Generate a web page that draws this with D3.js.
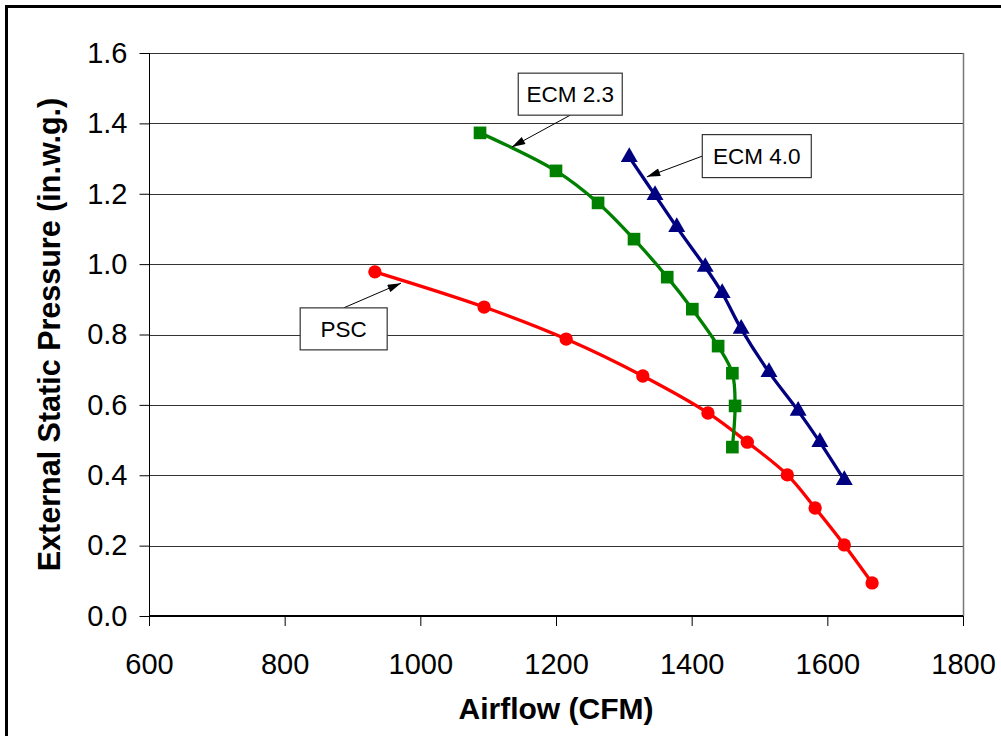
<!DOCTYPE html>
<html>
<head>
<meta charset="utf-8">
<script src="https://cdn.jsdelivr.net/npm/d3@7"></script>
<style>
  body { margin: 0; background: #fff; }
  text { font-family: 'Liberation Sans', Arial, sans-serif; }
</style>
</head>
<body>
<svg id="chart" width="1001" height="736"></svg>
<script>
// + -- data ---------------------------------------------------------------- +
const psc_cfm = [933, 1094, 1215, 1328, 1424, 1482, 1541, 1582, 1625, 1666]
const psc_esp = [0.978, 0.878, 0.787, 0.682, 0.577, 0.494, 0.401, 0.307, 0.202, 0.094]

const ecm23_cfm = [1088, 1200, 1262, 1315, 1364, 1401, 1439, 1460, 1464, 1460]
const ecm23_esp = [1.373, 1.265, 1.174, 1.071, 0.963, 0.872, 0.767, 0.690, 0.597, 0.480]

const ecm40_cfm = [1308, 1346, 1378, 1420, 1445, 1473, 1514, 1557, 1589, 1625]
const ecm40_esp = [1.304, 1.196, 1.105, 0.992, 0.918, 0.816, 0.693, 0.583, 0.494, 0.386]

const x_ticks = [600, 800, 1000, 1200, 1400, 1600, 1800]
const y_ticks = [0, 0.2, 0.4, 0.6, 0.8, 1.0, 1.2, 1.4, 1.6]

// callouts: box centre and arrow tip, in data units
const callouts = [
  {text: 'ECM 2.3', cx: 1221, cy: 1.483, w: 104, h: 42, side: 'bottom', tx: 1135, ty: 1.333},
  {text: 'ECM 4.0', cx: 1496, cy: 1.307, w: 109, h: 43, side: 'left', tx: 1334, ty: 1.248},
  {text: 'PSC', cx: 887, cy: 0.816, w: 87, h: 42, side: 'top', tx: 971.5, ty: 0.946}
]

// + -- layout ------------------------------------------------------------- +
const plot_l = 149, plot_r = 963, plot_t = 53, plot_b = 616
const svg = d3.select('#chart')

const x = d3.scaleLinear().domain([600, 1800]).range([plot_l, plot_r])
const y = d3.scaleLinear().domain([0, 1.6]).range([plot_b, plot_t])

// outer frame (runs off the right and bottom of the picture)
svg.append('rect')
  .attr('x', 6.5).attr('y', 6.5)
  .attr('width', 1200).attr('height', 900)
  .attr('fill', 'none').attr('stroke', '#000').attr('stroke-width', 3)

// gridlines
svg.append('g')
  .selectAll('line')
  .data(y_ticks.filter(d => d > 0))
  .join('line')
  .attr('x1', plot_l).attr('x2', plot_r)
  .attr('y1', d => Math.round(y(d)) + 0.5).attr('y2', d => Math.round(y(d)) + 0.5)
  .attr('stroke', '#333').attr('stroke-width', 1)

// right plot border
svg.append('line')
  .attr('x1', plot_r + 0.5).attr('x2', plot_r + 0.5)
  .attr('y1', plot_t).attr('y2', plot_b)
  .attr('stroke', '#777').attr('stroke-width', 1.5)

// axes
const xAxis = d3.axisBottom(x).tickValues(x_ticks).tickSize(10).tickPadding(27).tickFormat(d3.format('d'))
const yAxis = d3.axisLeft(y).tickValues(y_ticks).tickSize(10).tickPadding(12).tickFormat(d3.format('.1f'))

const gx = svg.append('g').attr('transform', 'translate(0,' + plot_b + ')').call(xAxis)
const gy = svg.append('g').attr('transform', 'translate(' + (plot_l + 0.5) + ',0)').call(yAxis)

gx.select('.domain').attr('stroke', '#000').attr('stroke-width', 2).attr('d', 'M' + plot_l + ',0H' + plot_r)
gy.select('.domain').attr('stroke', '#000').attr('stroke-width', 1).attr('d', 'M0,' + plot_t + 'V' + plot_b)
gx.selectAll('.tick line').attr('stroke', '#000')
gy.selectAll('.tick line').attr('stroke', '#000')
gx.selectAll('.tick text')
  .style('font-size', '29px').attr('fill', '#000')
  .attr('font-family', "'Liberation Sans', Arial, sans-serif")
gy.selectAll('.tick text')
  .style('font-size', '29px').attr('fill', '#000')
  .attr('font-family', "'Liberation Sans', Arial, sans-serif")

// axis titles
svg.append('text')
  .text('Airflow (CFM)')
  .attr('x', (plot_l + plot_r) / 2).attr('y', 719)
  .attr('text-anchor', 'middle')
  .style('font-size', '30px').attr('font-weight', 700)

svg.append('text')
  .text('External Static Pressure (in.w.g.)')
  .attr('transform', 'translate(60,' + (plot_t + plot_b) / 2 + ') rotate(-90)')
  .attr('text-anchor', 'middle')
  .style('font-size', '30.5px').attr('font-weight', 700)

// + -- series ------------------------------------------------------------- +
const series = [
  {name: 'PSC', cfm: psc_cfm, esp: psc_esp, color: '#ff0000', symbol: d3.symbolCircle, size: 140},
  {name: 'ECM 2.3', cfm: ecm23_cfm, esp: ecm23_esp, color: '#008000', symbol: d3.symbolSquare, size: 160},
  {name: 'ECM 4.0', cfm: ecm40_cfm, esp: ecm40_esp, color: '#000080', symbol: d3.symbolTriangle, size: 125}
]

const line = d3.line()
  .x(d => x(d[0])).y(d => y(d[1]))
  .curve(d3.curveCatmullRom.alpha(0.5))

series.forEach(s => {
  let pts = s.cfm.map((c, i) => [c, s.esp[i]])
  svg.append('path')
    .datum(pts)
    .attr('d', line)
    .attr('fill', 'none')
    .attr('stroke', s.color)
    .attr('stroke-width', 3.3)
  svg.append('g')
    .selectAll('path')
    .data(pts)
    .join('path')
    .attr('d', d3.symbol().type(s.symbol).size(s.size))
    .attr('transform', d => 'translate(' + x(d[0]) + ',' + y(d[1]) + ')')
    .attr('fill', s.color)
})

// + -- callouts ----------------------------------------------------------- +
const defs = svg.append('defs')
defs.append('marker')
  .attr('id', 'arrow')
  .attr('viewBox', '0 0 10 6')
  .attr('refX', 10).attr('refY', 3)
  .attr('markerWidth', 15).attr('markerHeight', 8)
  .attr('markerUnits', 'userSpaceOnUse')
  .attr('orient', 'auto')
  .append('path')
  .attr('d', 'M0,0L10,3L0,6Z')
  .attr('fill', '#000')

callouts.forEach(c => {
  let bx = x(c.cx), by = y(c.cy)
  let sx = bx, sy = by
  if (c.side === 'bottom') sy = by + c.h / 2
  if (c.side === 'top') sy = by - c.h / 2
  if (c.side === 'left') sx = bx - c.w / 2
  svg.append('line')
    .attr('x1', sx).attr('y1', sy)
    .attr('x2', x(c.tx)).attr('y2', y(c.ty))
    .attr('stroke', '#000').attr('stroke-width', 1)
    .attr('marker-end', 'url(#arrow)')
  svg.append('rect')
    .attr('x', bx - c.w / 2).attr('y', by - c.h / 2)
    .attr('width', c.w).attr('height', c.h)
    .attr('fill', '#fff').attr('stroke', '#333').attr('stroke-width', 1.2)
  svg.append('text')
    .text(c.text)
    .attr('x', bx).attr('y', by + 8)
    .attr('text-anchor', 'middle')
    .style('font-size', '22.5px').attr('fill', '#000')
})
</script>
</body>
</html>
